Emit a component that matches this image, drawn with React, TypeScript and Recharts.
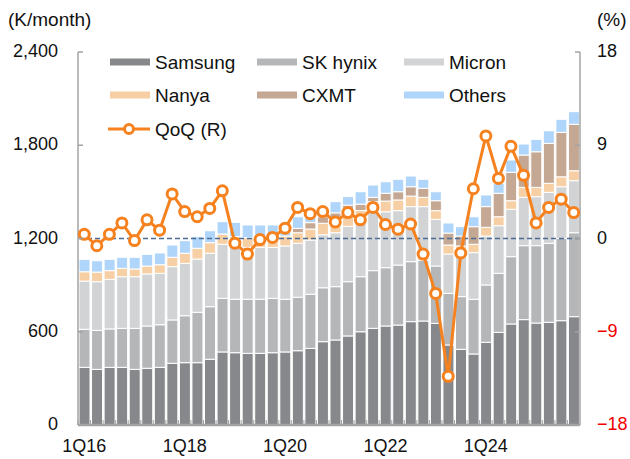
import React from "react";
import {
  ComposedChart,
  Bar,
  Line,
  XAxis,
  YAxis,
  ReferenceLine,
} from "recharts";

const quarters = [
  "1Q16", "2Q16", "3Q16", "4Q16", "1Q17", "2Q17", "3Q17", "4Q17",
  "1Q18", "2Q18", "3Q18", "4Q18", "1Q19", "2Q19", "3Q19", "4Q19",
  "1Q20", "2Q20", "3Q20", "4Q20", "1Q21", "2Q21", "3Q21", "4Q21",
  "1Q22", "2Q22", "3Q22", "4Q22", "1Q23", "2Q23", "3Q23", "4Q23",
  "1Q24", "2Q24", "3Q24", "4Q24", "1Q25", "2Q25", "3Q25", "4Q25",
];

const samsung = [
  371, 358, 371, 371, 358, 365, 371, 397, 401, 401, 423, 470, 465, 461, 461, 465,
  470, 478, 493, 536, 547, 573, 600, 622, 637, 643, 665, 669, 654, 515, 487, 457,
  532, 596, 650, 678, 656, 661, 671, 697,
];
const skHynix = [
  245, 251, 247, 251, 264, 272, 274, 279, 302, 324, 338, 345, 344, 348, 348, 350,
  339, 344, 348, 347, 343, 349, 354, 371, 375, 386, 386, 391, 369, 332, 339, 352,
  369, 380, 433, 476, 498, 508, 530, 540,
];
const micron = [
  310, 313, 319, 332, 332, 335, 331, 343, 337, 343, 344, 348, 343, 334, 334, 328,
  343, 347, 349, 341, 347, 356, 366, 380, 360, 350, 354, 345, 300, 253, 268, 300,
  315, 306, 305, 311, 315, 328, 332, 335,
];
const nanya = [
  60, 62, 56, 54, 50, 51, 55, 60, 65, 69, 68, 66, 60, 62, 62, 69,
  64, 68, 71, 74, 65, 68, 60, 64, 69, 69, 68, 60, 56, 58, 58, 54,
  56, 58, 55, 64, 60, 58, 64, 64,
];
const cxmt = [
  0, 0, 0, 0, 0, 0, 0, 0, 0, 0, 0, 0, 0, 0, 0, 0,
  0, 28, 41, 42, 63, 69, 41, 28, 50, 53, 60, 58, 64, 77, 64, 113,
  133, 151, 183, 208, 229, 257, 286, 299,
];
const others = [
  80, 73, 73, 71, 75, 75, 76, 79, 81, 75, 77, 79, 92, 82, 82, 75,
  74, 75, 62, 63, 72, 55, 80, 79, 74, 80, 69, 58, 58, 65, 60, 64,
  75, 64, 79, 71, 80, 81, 84, 81,
];
const qoq = [
  0.4, -0.7, 0.4, 1.5, -0.2, 1.8, 0.8, 4.3, 2.6, 2.1, 2.9, 4.6, -0.45, -1.5, -0.1, 0.1,
  1.0, 3.0, 2.4, 2.6, 1.6, 2.5, 1.8, 3.0, 1.35, 0.9, 1.4, -1.5, -5.3, -13.3, -1.4, 4.8,
  9.9, 5.8, 8.9, 6.1, 1.5, 3.0, 3.8, 2.5,
];

const leftTicks = [0, 600, 1200, 1800, 2400];
const rightTicks = [-18, -9, 0, 9, 18];
const xLabels = ["1Q16", "1Q18", "1Q20", "1Q22", "1Q24"];

const series = [
  { key: "samsung", name: "Samsung", color: "#86888b" },
  { key: "skHynix", name: "SK hynix", color: "#b5b6b8" },
  { key: "micron", name: "Micron", color: "#d2d3d5" },
  { key: "nanya", name: "Nanya", color: "#f7cfa4" },
  { key: "cxmt", name: "CXMT", color: "#c4a893" },
  { key: "others", name: "Others", color: "#b0d5fa" },
];

const ORANGE = "#f5821f";
const AXIS = "#a3a3a3";
const FONT = "'Liberation Sans', Arial, sans-serif";

const data = quarters.map((q, i) => ({
  q,
  samsung: samsung[i],
  skHynix: skHynix[i],
  micron: micron[i],
  nanya: nanya[i],
  cxmt: cxmt[i],
  others: others[i],
  qoq: qoq[i],
}));

const W = 630;
const H = 459;
const PLOT_LEFT = 78;
const PLOT_RIGHT = 580;
const band = (PLOT_RIGHT - PLOT_LEFT) / quarters.length;

const LeftTick = (props: any) => {
  const { x, y, payload } = props;
  return (
    <g>
      <line x1={x} x2={x + 5} y1={y} y2={y} stroke={AXIS} strokeWidth={1.5} />
      <text x={x - 20} y={y} dy={5} textAnchor="end" fontSize={18} fontFamily={FONT} fill="#111">
        {Number(payload.value).toLocaleString("en-US")}
      </text>
    </g>
  );
};

const RightTick = (props: any) => {
  const { x, y, payload } = props;
  const v = Number(payload.value);
  return (
    <g>
      <line x1={x} x2={x - 5} y1={y} y2={y} stroke={AXIS} strokeWidth={1.5} />
      <text x={x + 17} y={y} dy={5} textAnchor="start" fontSize={18} fontFamily={FONT} fill={v < 0 ? "#f00000" : "#111"}>
        {v < 0 ? `\u2212${Math.abs(v)}` : v}
      </text>
    </g>
  );
};

const BottomTick = (props: any) => {
  const { x, y, payload } = props;
  return (
    <g>
      <line x1={x - band / 2} x2={x - band / 2} y1={y} y2={y - 5} stroke={AXIS} strokeWidth={1} />
      {xLabels.includes(payload.value) && (
        <text x={x} y={y} dy={27} textAnchor="middle" fontSize={18} fontFamily={FONT} fill="#111">
          {payload.value}
        </text>
      )}
    </g>
  );
};

function LegendOverlay() {
  const cols = [110, 257, 404];
  const rows = [62, 95];
  return (
    <svg width={W} height={H} style={{ position: "absolute", left: 0, top: 0, pointerEvents: "none" }}>
      <text x={8} y={26} fontSize={19} fontFamily={FONT} fill="#111">(K/month)</text>
      <text x={597} y={26} fontSize={19} fontFamily={FONT} fill="#111">(%)</text>
      {series.map((s, i) => {
        const cx = cols[i % 3];
        const cy = rows[Math.floor(i / 3)];
        return (
          <g key={s.key}>
            <rect x={cx} y={cy - 3.5} width={40} height={7} fill={s.color} />
            <text x={cx + 45} y={cy + 6.5} fontSize={19} fontFamily={FONT} fill="#111">{s.name}</text>
          </g>
        );
      })}
      <line x1={108} x2={150} y1={129} y2={129} stroke={ORANGE} strokeWidth={3} />
      <circle cx={129} cy={129} r={4.5} fill="#fff" stroke={ORANGE} strokeWidth={3} />
      <text x={155} y={135.5} fontSize={19} fontFamily={FONT} fill="#111">QoQ (R)</text>
    </svg>
  );
}

export default function App() {
  return (
    <div style={{ position: "absolute", left: 0, top: 0, width: W, height: H, background: "#fff" }}>
      <ComposedChart
        width={W}
        height={H}
        data={data}
        margin={{ top: 52, right: 0, bottom: 0, left: 0 }}
        barCategoryGap={0}
        barGap={0}
      >
        <XAxis
          dataKey="q"
          height={34}
          interval={0}
          tickSize={0}
          tickMargin={0}
          tick={<BottomTick />}
          axisLine={{ stroke: AXIS, strokeWidth: 2.5 }}
          tickLine={false}
        />
        <YAxis
          yAxisId="left"
          orientation="left"
          width={78}
          domain={[0, 2400]}
          ticks={leftTicks}
          tickSize={0}
          tickMargin={0}
          tick={<LeftTick />}
          axisLine={{ stroke: AXIS, strokeWidth: 1.5 }}
          tickLine={false}
        />
        <YAxis
          yAxisId="right"
          orientation="right"
          width={50}
          domain={[-18, 18]}
          ticks={rightTicks}
          tickSize={0}
          tickMargin={0}
          tick={<RightTick />}
          axisLine={{ stroke: AXIS, strokeWidth: 1.5 }}
          tickLine={false}
        />
        {series.map((s) => (
          <Bar
            key={s.key}
            yAxisId="left"
            dataKey={s.key}
            stackId="cap"
            fill={s.color}
            stroke="#fff"
            strokeWidth={1}
            barSize={11}
            isAnimationActive={false}
          />
        ))}
        <ReferenceLine yAxisId="right" y={0} stroke="#4a6c98" strokeWidth={1.5} strokeDasharray="5 3" />
        <Line
          yAxisId="right"
          dataKey="qoq"
          stroke={ORANGE}
          strokeWidth={3}
          dot={{ r: 5, fill: "#fff", stroke: ORANGE, strokeWidth: 3 }}
          isAnimationActive={false}
        />
      </ComposedChart>
      <LegendOverlay />
    </div>
  );
}
